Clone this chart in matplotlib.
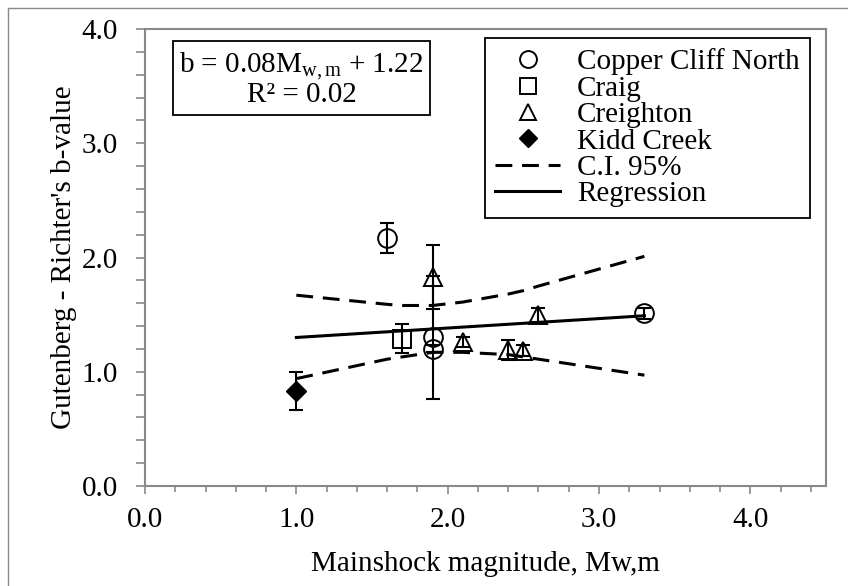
import matplotlib
matplotlib.use("Agg")
import matplotlib.pyplot as plt
from matplotlib.lines import Line2D
from matplotlib.ticker import MultipleLocator, FormatStrFormatter

plt.rcParams['font.family'] = ['Liberation Serif', 'DejaVu Serif']
plt.rcParams['mathtext.fontset'] = 'custom'
plt.rcParams['mathtext.rm'] = 'Liberation Serif'
plt.rcParams['mathtext.it'] = 'Liberation Serif:italic'

# ---- data ----
ccn_x = [1.6, 1.9, 1.9, 3.3]
ccn_y = [2.17, 1.30, 1.20, 1.51]
ccn_err = [0.13, 0.54, 0.03, 0.05]

craig_x = [1.7]
craig_y = [1.29]
craig_err = [0.13]

creighton_x = [1.9, 2.1, 2.4, 2.5, 2.6]
creighton_y = [1.83, 1.26, 1.19, 1.185, 1.495]
creighton_err = [0.28, 0.04, 0.09, 0.05, 0.06]

kidd_x = [1.0]
kidd_y = [0.83]
kidd_err = [0.165]

ci_x = [1.0, 1.6, 1.7, 1.9, 2.1, 2.4, 2.5, 2.6, 3.3]
ci_upper = [1.67, 1.59, 1.58, 1.58, 1.61, 1.68, 1.71, 1.75, 2.01]
ci_lower = [0.94, 1.11, 1.13, 1.17, 1.17, 1.15, 1.13, 1.11, 0.97]

reg_x = [1.0, 3.3]
reg_y = [1.30, 1.49]

equation_text = "b = 0.08M$_{\\mathrm{w,m}}$ + 1.22\nR² = 0.02"
xlabel = "Mainshock magnitude, Mw,m"
ylabel = "Gutenberg - Richter's b-value"

FS = 21

# ---- figure ----
fig = plt.figure(figsize=(8.48, 5.86), dpi=100)
ax = fig.add_axes([145/848, 100/586, 681/848, 457/586])

gray = '#898989'
for s in ax.spines.values():
    s.set_color(gray)
    s.set_linewidth(1.5)

eb_kw = dict(fmt='none', ecolor='black', elinewidth=1.5, capsize=4.8, capthick=1.5, zorder=3)
ax.errorbar(ccn_x, ccn_y, yerr=ccn_err, **eb_kw)
ax.errorbar(craig_x, craig_y, yerr=craig_err, **eb_kw)
ax.errorbar(creighton_x, creighton_y, yerr=creighton_err, **eb_kw)
ax.errorbar(kidd_x, kidd_y, yerr=kidd_err, **eb_kw)

ax.plot(ccn_x, ccn_y, ls='none', marker='o', ms=13.5, mfc='none', mec='black', mew=1.4,
        label='Copper Cliff North', zorder=4)
ax.plot(craig_x, craig_y, ls='none', marker='s', ms=13, mfc='none', mec='black', mew=1.4,
        label='Craig', zorder=4)
ax.plot(creighton_x, creighton_y, ls='none', marker='^', ms=13, mfc='none', mec='black', mew=1.4,
        label='Creighton', zorder=4)
ax.plot(kidd_x, kidd_y, ls='none', marker='D', ms=10, mfc='black', mec='black', mew=1.0,
        label='Kidd Creek', zorder=4)

dash = (0, (5.5, 3.2))
ax.plot(ci_x, ci_upper, color='black', lw=2.2, ls=dash, label='C.I. 95%', zorder=2)
ax.plot(ci_x, ci_lower, color='black', lw=2.2, ls=dash, zorder=2)
ax.plot(reg_x, reg_y, color='black', lw=2.2, label='Regression', zorder=2)

ax.set_xlim(0, 4.5)
ax.set_ylim(0, 4.0)
ax.xaxis.set_major_locator(MultipleLocator(1.0))
ax.xaxis.set_minor_locator(MultipleLocator(0.2))
ax.yaxis.set_major_locator(MultipleLocator(1.0))
ax.yaxis.set_minor_locator(MultipleLocator(0.2))
ax.xaxis.set_major_formatter(FormatStrFormatter('%.1f'))
ax.yaxis.set_major_formatter(FormatStrFormatter('%.1f'))
ax.tick_params(axis='x', which='major', direction='out', length=6, width=1.2, color=gray,
               labelsize=FS, pad=9)
ax.tick_params(axis='x', which='minor', direction='out', length=4, width=1.2, color=gray)
ax.tick_params(axis='y', which='major', direction='out', length=6.5, width=1.2, color=gray,
               labelsize=FS, pad=13)
ax.tick_params(axis='y', which='minor', direction='out', length=6.5, width=1.2, color=gray)

ax.set_xlabel(xlabel, fontsize=FS)
ax.set_ylabel(ylabel, fontsize=FS)
ax.xaxis.set_label_coords(0.5, -0.143)
ax.yaxis.set_label_coords(-0.10, 0.5)

ax.text(0.2298, 0.8895, equation_text, transform=ax.transAxes, fontsize=FS,
        ha='center', va='center', multialignment='center', linespacing=1.0,
        bbox=dict(boxstyle='square,pad=0.22', fc='white', ec='black', lw=1.3), zorder=5)

leg = ax.legend(loc='upper right', bbox_to_anchor=(0.9765, 0.980), fontsize=FS,
                frameon=True, fancybox=False, framealpha=1, edgecolor='black',
                handlelength=2.2, handletextpad=0.6, labelspacing=0.0,
                borderpad=0.35, borderaxespad=0, markerscale=0.9)
leg.get_frame().set_linewidth(1.3)

# outer chart border (left and top visible)
fig.add_artist(Line2D([8/848, 8/848], [0, 1 - 8/586], color=gray, lw=1.0))
fig.add_artist(Line2D([8/848, 1], [1 - 8/586, 1 - 8/586], color=gray, lw=1.0))

fig.savefig('out.png', dpi=100)
